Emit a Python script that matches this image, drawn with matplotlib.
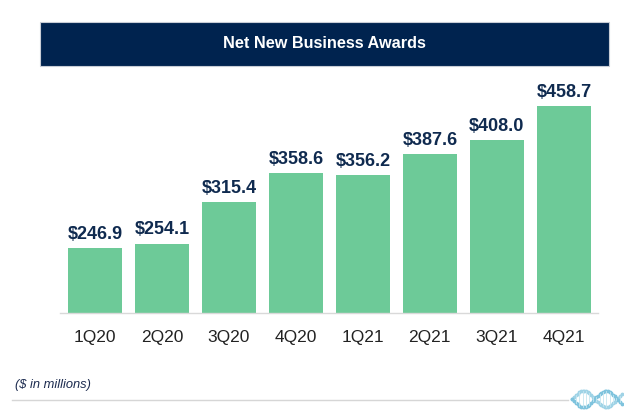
import numpy as np
import matplotlib.pyplot as plt
from matplotlib.patches import Rectangle

plt.rcParams['font.family'] = ['Liberation Sans', 'DejaVu Sans']

quarters = ['1Q20', '2Q20', '3Q20', '4Q20', '1Q21', '2Q21', '3Q21', '4Q21']
awards = [246.9, 254.1, 315.4, 358.6, 356.2, 387.6, 408.0, 458.7]

navy = '#00234f'
green = '#6dca98'

fig = plt.figure(figsize=(6.24, 4.19), dpi=100)

# title banner
fig.patches.append(Rectangle((40/624, 1 - 66/419), 569/624, 44/419,
                             transform=fig.transFigure, facecolor=navy,
                             edgecolor='#c8cdd6', linewidth=0.8))
fig.text(324/624, 1 - 44/419, 'Net New Business Awards', color='white',
         fontsize=11.7, fontweight='bold', ha='center', va='center')

ax = fig.add_axes([60/624, 1 - 313/419, 538/624, 233/419])
x = range(len(quarters))
ax.bar(x, awards, width=0.8, color=green)
for i, v in enumerate(awards):
    ax.text(i, v + 8, f'${v:.1f}', ha='center', va='bottom', fontsize=13,
            fontweight='bold', color='#0f2a4f')

ax.set_ylim(150.7, 497.9)
ax.set_xlim(-0.52, 7.51)
ax.set_xticks(list(x))
ax.set_xticklabels(quarters, fontsize=12.5, color='#222222')
ax.tick_params(axis='x', length=0, pad=12)
ax.set_yticks([])
for s in ['left', 'right', 'top']:
    ax.spines[s].set_visible(False)
ax.spines['bottom'].set_color('#d9d9d9')
ax.spines['bottom'].set_linewidth(1)

fig.text(15/624, 1 - 385/419, '($ in millions)', fontsize=9.3, style='italic',
         color='#1c2b4f', ha='left', va='center')
fig.add_artist(plt.Line2D([12/624, 568/624], [1 - 400/419, 1 - 400/419],
                          color='#d6d6d6', linewidth=1, transform=fig.transFigure))

# small helix logo, bottom right
lx = fig.add_axes([570/624, 1 - 412/419, 54/624, 26/419])
t = np.linspace(0, 2.2 * np.pi, 30)
lx.scatter(t, np.sin(t), s=3, color='#9fd3e6')
lx.scatter(t, -np.sin(t), s=3, color='#7ec3dd')
for ti in t[::2]:
    lx.plot([ti, ti], [np.sin(ti), -np.sin(ti)], color='#c5e6f0', linewidth=0.6)
lx.set_ylim(-1.6, 1.6)
lx.axis('off')

fig.savefig('out.png', dpi=100)
